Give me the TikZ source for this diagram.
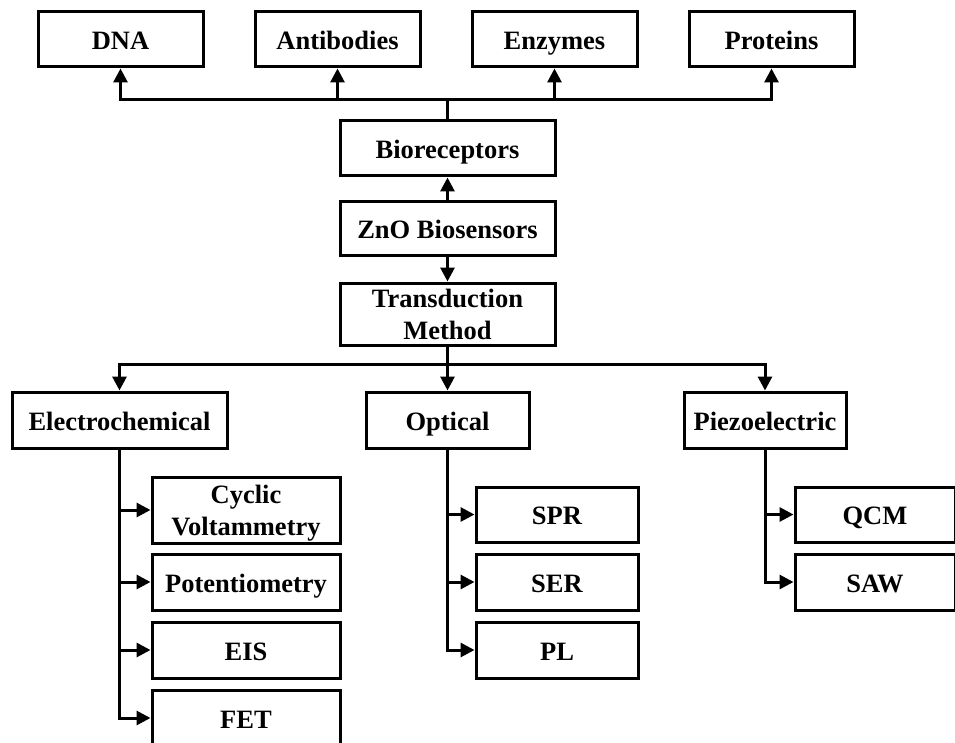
\documentclass[tikz,border=0pt]{standalone}
\usepackage{fontspec}
\setmainfont{Liberation Serif}
\usetikzlibrary{arrows.meta,positioning}

\begin{document}
\begin{tikzpicture}[x=1pt, y=-1pt, >={Triangle[length=14pt,width=14pt]}, line width=3pt,
  box/.style={draw, line width=3pt, align=center, inner sep=2pt, minimum height=55pt, text height=25pt, text depth=5pt, font=\fontsize{26.5}{32}\selectfont\bfseries},
  twoline/.style={text height=56pt, text depth=5pt, inner ysep=0pt},
  topbox/.style={box, minimum width=165pt},
  midbox/.style={box, minimum width=215pt},
  leafbox/.style={box, minimum width=162pt},
  node distance=23pt and 49pt]
\useasboundingbox (0,0) rectangle (955,743);
% receptors
\node[topbox] (dna) at (120.5,39.5) {DNA};
\node[topbox, right=of dna] (anti) {Antibodies};
\node[topbox, right=of anti] (enz) {Enzymes};
\node[topbox, right=of enz] (prot) {Proteins};
% main column
\node[midbox] (bio) at (447.5,148.5) {Bioreceptors};
\node[midbox, minimum height=54pt, below=of bio] (zno) {ZnO Biosensors};
\node[midbox, twoline, minimum height=62pt, below=24pt of zno] (trans) {Transduction\\Method};
% transduction types
\node[midbox, minimum height=56pt] (elec) at (119.5,420) {Electrochemical};
\node[box, minimum width=163pt, minimum height=56pt] (opt) at (447.5,420) {Optical};
\node[box, minimum width=162pt, minimum height=56pt] (piezo) at (765,420) {Piezoelectric};
% electrochemical methods
\node[box, twoline, minimum width=188pt, minimum height=66pt] (cv) at (246,510) {Cyclic\\Voltammetry};
\node[box, minimum width=188pt, minimum height=56pt, below=8pt of cv] (pot) {Potentiometry};
\node[box, minimum width=188pt, minimum height=56pt, below=9pt of pot] (eis) {EIS};
\node[box, minimum width=188pt, minimum height=56pt, below=9pt of eis] (fet) {FET};
% optical methods
\node[leafbox] (spr) at (557,514.5) {SPR};
\node[leafbox, minimum height=56pt, below=9pt of spr] (ser) {SER};
\node[leafbox, minimum height=56pt, below=9pt of ser] (pl) {PL};
% piezoelectric methods
\node[box, minimum width=160pt] (qcm) at (875,514.5) {QCM};
\node[box, minimum width=160pt, minimum height=56pt, below=9pt of qcm] (saw) {SAW};

\coordinate (upsplit) at (447.5,100);
\coordinate (downsplit) at (447.5,364);

\draw (bio.north) -- (upsplit);
\foreach \n in {dna,anti,enz,prot}
  \draw[->] (upsplit) -| (\n);
\draw[->] (zno) -- (bio);
\draw[->] (zno) -- (trans);
\draw (trans) -- (downsplit);
\foreach \n in {elec,opt,piezo}
  \draw[->] (downsplit) -| (\n);
\foreach \n in {cv,pot,eis,fet}
  \draw[->] (elec.south) |- (\n.west);
\foreach \n in {spr,ser,pl}
  \draw[->] (opt.south) |- (\n.west);
\foreach \n in {qcm,saw}
  \draw[->] (piezo.south) |- (\n.west);
\end{tikzpicture}
\end{document}
